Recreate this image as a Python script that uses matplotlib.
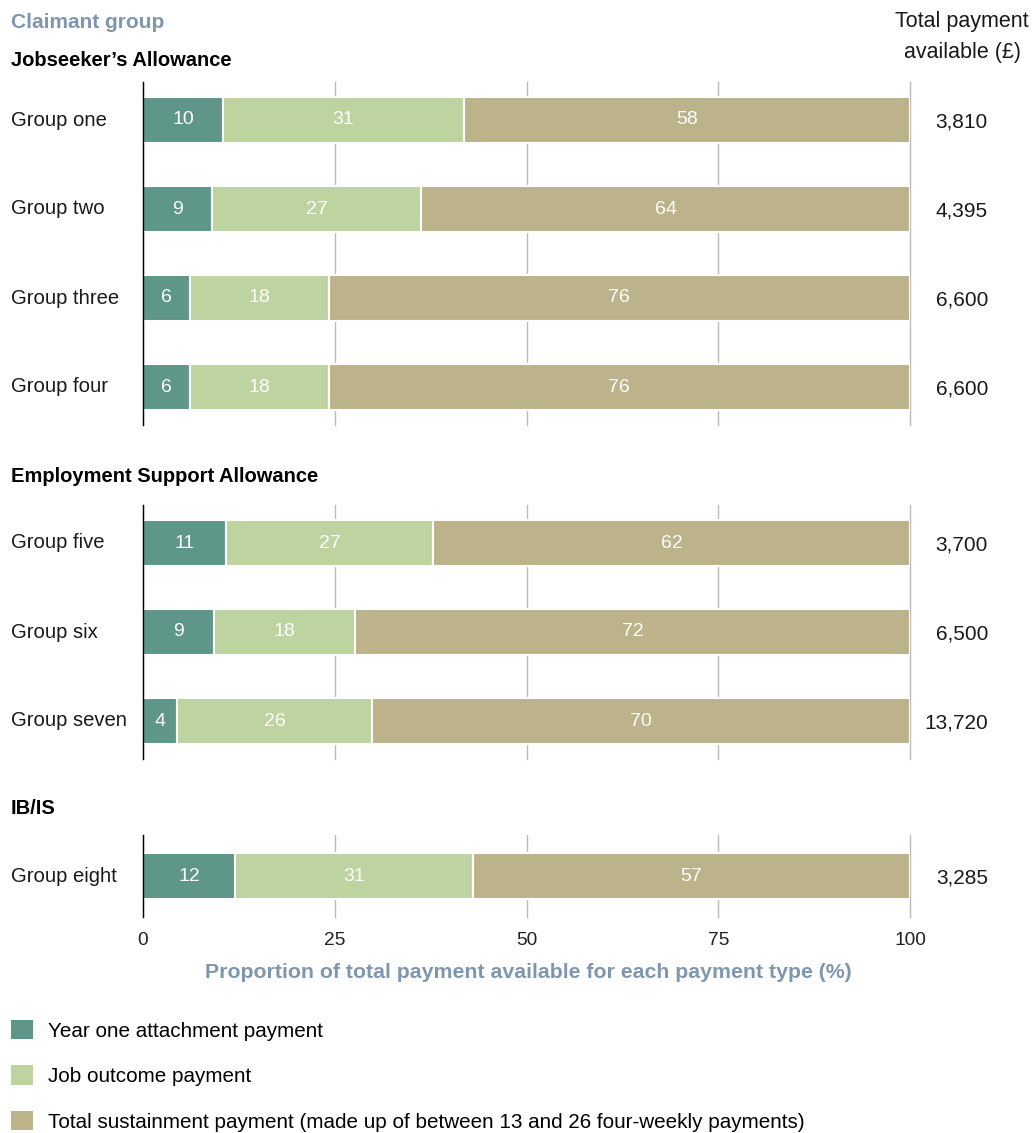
import matplotlib.pyplot as plt
from matplotlib.patches import Patch

plt.rcParams["font.family"] = ["Liberation Sans", "DejaVu Sans"]

# %% Datos

sections = ["Jobseeker\u2019s Allowance", "Employment Support Allowance", "IB/IS"]
section_sizes = [4, 3, 1]
groups = ["Group one", "Group two", "Group three", "Group four",
          "Group five", "Group six", "Group seven", "Group eight"]

# share of total payment (%) as drawn, and the rounded labels printed on the bars
attach = [10.4, 9.0, 6.1, 6.1, 10.8, 9.2, 4.4, 12.0]
outcome = [31.5, 27.3, 18.1, 18.1, 27.0, 18.5, 25.5, 31.0]
sustain = [58.1, 63.7, 75.8, 75.8, 62.2, 72.3, 70.1, 57.0]
attach_lbl = [10, 9, 6, 6, 11, 9, 4, 12]
outcome_lbl = [31, 27, 18, 18, 27, 18, 26, 31]
sustain_lbl = [58, 64, 76, 76, 62, 72, 70, 57]
totals = [3810, 4395, 6600, 6600, 3700, 6500, 13720, 3285]

series_names = ["Year one attachment payment", "Job outcome payment",
                "Total sustainment payment (made up of between 13 and 26 four-weekly payments)"]
colores = ["#5e9689", "#bed4a0", "#bcb38a"]
azul = "#7f97ae"

# %% Figura

W, H = 1035, 1133
fig = plt.figure(figsize=(W / 100, H / 100), dpi=100)


def caja(x0, y0, x1, y1):
    return [x0 / W, 1 - y1 / H, (x1 - x0) / W, (y1 - y0) / H]


# limites de cada panel en pixeles (arriba, abajo)
paneles = [(82, 425), (505, 759), (835, 917)]
cabeceras = [60, 476, 808]

inicio = 0
for k, (nombre, n) in enumerate(zip(sections, section_sizes)):
    top, bottom = paneles[k]
    ax = fig.add_axes(caja(143, top, 910, bottom))
    idx = list(range(inicio, inicio + n))
    pos = list(range(n))
    a = [attach[i] for i in idx]
    o = [outcome[i] for i in idx]
    s = [sustain[i] for i in idx]
    left2 = [a[j] + o[j] for j in pos]
    h = 0.52
    b1 = ax.barh(pos, a, height=h, color=colores[0], edgecolor="white", linewidth=1.5)
    b2 = ax.barh(pos, o, left=a, height=h, color=colores[1], edgecolor="white", linewidth=1.5)
    b3 = ax.barh(pos, s, left=left2, height=h, color=colores[2], edgecolor="white", linewidth=1.5)
    for barras, etiquetas in [(b1, attach_lbl), (b2, outcome_lbl), (b3, sustain_lbl)]:
        ax.bar_label(barras, labels=[str(etiquetas[i]) for i in idx], label_type="center",
                     color="white", fontsize=14)

    # filas separadas 89 px
    extra = ((bottom - top) / 89.0 - (n - 1)) / 2
    ax.set_ylim(n - 1 + extra, -extra)
    ax.set_xlim(0, 100)
    ax.set_xticks([0, 25, 50, 75, 100])
    ax.grid(axis="x", color="#bbbbbb", linewidth=1)
    for linea in ax.get_xgridlines():
        linea.set_clip_on(False)
    ax.set_axisbelow(True)
    for lado in ["top", "right", "bottom"]:
        ax.spines[lado].set_visible(False)
    ax.spines["left"].set_color("black")
    ax.spines["left"].set_linewidth(1)
    ax.spines["left"].set_zorder(5)
    ax.set_yticks([])
    ax.tick_params(axis="x", length=0, pad=11, labelsize=13.8, colors="#222222")
    if k < len(sections) - 1:
        ax.set_xticklabels([])

    for j, i in enumerate(idx):
        ax.text((11 - 143) / 767, j, groups[i], transform=ax.get_yaxis_transform(),
                ha="left", va="center", fontsize=14.6, color="#1a1a1a")
        ax.text((988 - 143) / 767, j + 0.025, "{:,}".format(totals[i]), transform=ax.get_yaxis_transform(),
                ha="right", va="center", fontsize=15, color="#1a1a1a")

    fig.text(11 / W, 1 - cabeceras[k] / H, nombre, ha="left", va="center",
             fontsize=14.5, fontweight="bold", color="black")
    inicio += n

fig.text(11 / W, 1 - 22 / H, "Claimant group", ha="left", va="center",
         fontsize=15, fontweight="bold", color=azul)
fig.text(962 / W, 1 - 37 / H, "Total payment\navailable (\u00a3)", ha="center", va="center",
         fontsize=15.5, color="#1a1a1a", linespacing=1.6)
fig.text(528 / W, 1 - 972 / H, "Proportion of total payment available for each payment type (%)",
         ha="center", va="center", fontsize=15.3, fontweight="bold", color=azul)

handles = [Patch(facecolor=c, edgecolor="none") for c in colores]
fig.legend(handles, series_names, loc="upper left", bbox_to_anchor=(11 / W, 1 - 1020 / H),
           frameon=False, fontsize=14.9, handlelength=1.05, handleheight=1.05,
           handletextpad=0.75, labelspacing=1.2, borderpad=0, borderaxespad=0)

fig.savefig("out.png", dpi=100)
